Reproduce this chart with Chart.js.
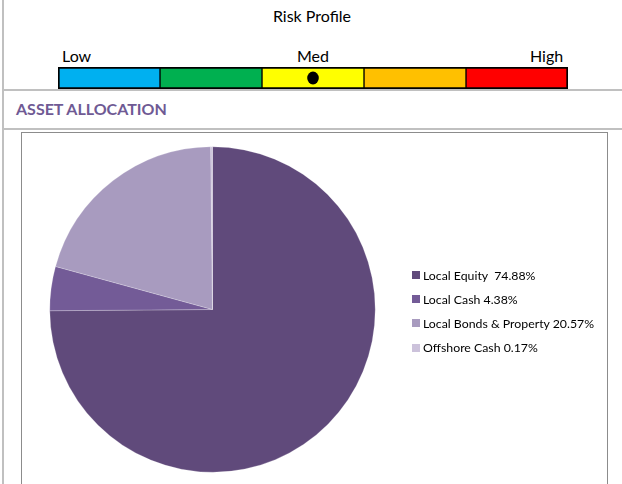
<!DOCTYPE html>
<html>
<head>
<meta charset="utf-8">
<script src="https://cdn.jsdelivr.net/npm/chart.js@4.4.1/dist/chart.umd.min.js"></script>
<style>
  html, body { margin: 0; padding: 0; background: #fff; }
  body { width: 622px; height: 484px; position: relative; overflow: hidden; font-family: Lato, "Noto Sans", sans-serif; }
  .abs { position: absolute; }
  #vline { left: 2px; top: 0; width: 2px; height: 484px; background: #c0c0c0; }
  #hline1 { left: 2px; top: 89px; width: 620px; height: 2px; background: #c0c0c0; }
  #hline2 { left: 2px; top: 128px; width: 620px; height: 2px; background: #c0c0c0; }
  #title { left: 0; width: 624px; top: 6px; text-align: center; font-size: 16px; color: #000; }
  .lvl { top: 46px; font-size: 16px; color: #000; }
  #heading { left: 16px; top: 99px; font-size: 16px; font-weight: bold; color: #6F5A94; }
  #box { left: 21px; top: 132px; width: 585px; height: 400px; border: 1px solid #8c8c8c; }
  #riskWrap { left: 58px; top: 67px; width: 510px; height: 22px; }
  #pieWrap { left: 22px; top: 133px; width: 584px; height: 351px; }
  #legend { left: 412px; top: 263px; font-size: 12.3px; color: #000; }
  .item { height: 24.2px; display: flex; align-items: center; white-space: pre; }
  .sw { width: 8px; height: 8px; margin-right: 3px; flex: none; }
</style>
</head>
<body>
<div id="vline" class="abs"></div>
<div id="hline1" class="abs"></div>
<div id="hline2" class="abs"></div>
<div id="title" class="abs">Risk Profile</div>
<div class="abs lvl" style="left:62px">Low</div>
<div class="abs lvl" style="left:297px">Med</div>
<div class="abs lvl" style="left:530px">High</div>
<div id="riskWrap" class="abs"><canvas id="risk" width="510" height="22"></canvas></div>
<div id="heading" class="abs">ASSET ALLOCATION</div>
<div id="box" class="abs"></div>
<div id="pieWrap" class="abs"><canvas id="pie" width="584" height="351"></canvas></div>
<div id="legend" class="abs"></div>
<script>
// ---- Data ----
const riskLevels = ['Low', 'Low-Med', 'Med', 'Med-High', 'High'];
const riskSegment = [1, 1, 1, 1, 1];
const riskColors = ['#00B0F0', '#00B050', '#FFFF00', '#FFC000', '#FF0000'];
const riskScore = 2.5;

const assetLabels = ['Local Equity', 'Local Cash', 'Local Bonds & Property', 'Offshore Cash'];
const assetValues = [74.88, 4.38, 20.57, 0.17];
const assetColors = ['#604A7B', '#735B97', '#A89BBF', '#CCC2DB'];
const legendSep = ['  ', ' ', ' ', ' '];

// ---- Risk bar ----
const dotPlugin = {
  id: 'riskDot',
  afterDatasetsDraw(chart) {
    const ctx = chart.ctx;
    const x = chart.scales.x.getPixelForValue(riskScore);
    const ca = chart.chartArea;
    const y = (ca.top + ca.bottom) / 2;
    ctx.save();
    ctx.fillStyle = '#000';
    ctx.beginPath();
    ctx.ellipse(x, y, 5.8, 6.5, 0, 0, Math.PI * 2);
    ctx.fill();
    ctx.restore();
  }
};
new Chart(document.getElementById('risk'), {
  type: 'bar',
  data: {
    labels: ['Risk'],
    datasets: riskLevels.map((lv, i) => ({
      label: lv,
      data: [riskSegment[i]],
      backgroundColor: riskColors[i],
      borderColor: '#000',
      borderWidth: { top: 2, bottom: 2, left: i === 0 ? 2 : 1, right: i === riskLevels.length - 1 ? 2 : 1 },
      borderSkipped: false,
      barPercentage: 1,
      categoryPercentage: 1
    }))
  },
  options: {
    indexAxis: 'y',
    responsive: false,
    animation: false,
    devicePixelRatio: 1,
    layout: { padding: 0 },
    scales: {
      x: { stacked: true, display: false, min: 0, max: riskSegment.reduce((a, b) => a + b, 0) },
      y: { stacked: true, display: false }
    },
    plugins: { legend: { display: false }, tooltip: { enabled: false } }
  },
  plugins: [dotPlugin]
});

// ---- Pie ----
new Chart(document.getElementById('pie'), {
  type: 'pie',
  data: {
    labels: assetLabels,
    datasets: [{
      data: assetValues,
      backgroundColor: assetColors,
      borderColor: 'rgba(255,255,255,0.45)',
      borderWidth: 0.5
    }]
  },
  options: {
    responsive: false,
    animation: false,
    devicePixelRatio: 1,
    layout: { padding: { left: 27.5, top: 13.5, right: 230.5, bottom: 11.5 } },
    plugins: { legend: { display: false }, tooltip: { enabled: false } }
  }
});

// ---- Legend ----
const leg = document.getElementById('legend');
assetLabels.forEach((lab, i) => {
  const it = document.createElement('div');
  it.className = 'item';
  const sw = document.createElement('span');
  sw.className = 'sw';
  sw.style.background = assetColors[i];
  const tx = document.createElement('span');
  tx.textContent = lab + legendSep[i] + assetValues[i].toFixed(2) + '%';
  it.appendChild(sw);
  it.appendChild(tx);
  leg.appendChild(it);
});
</script>
</body>
</html>
